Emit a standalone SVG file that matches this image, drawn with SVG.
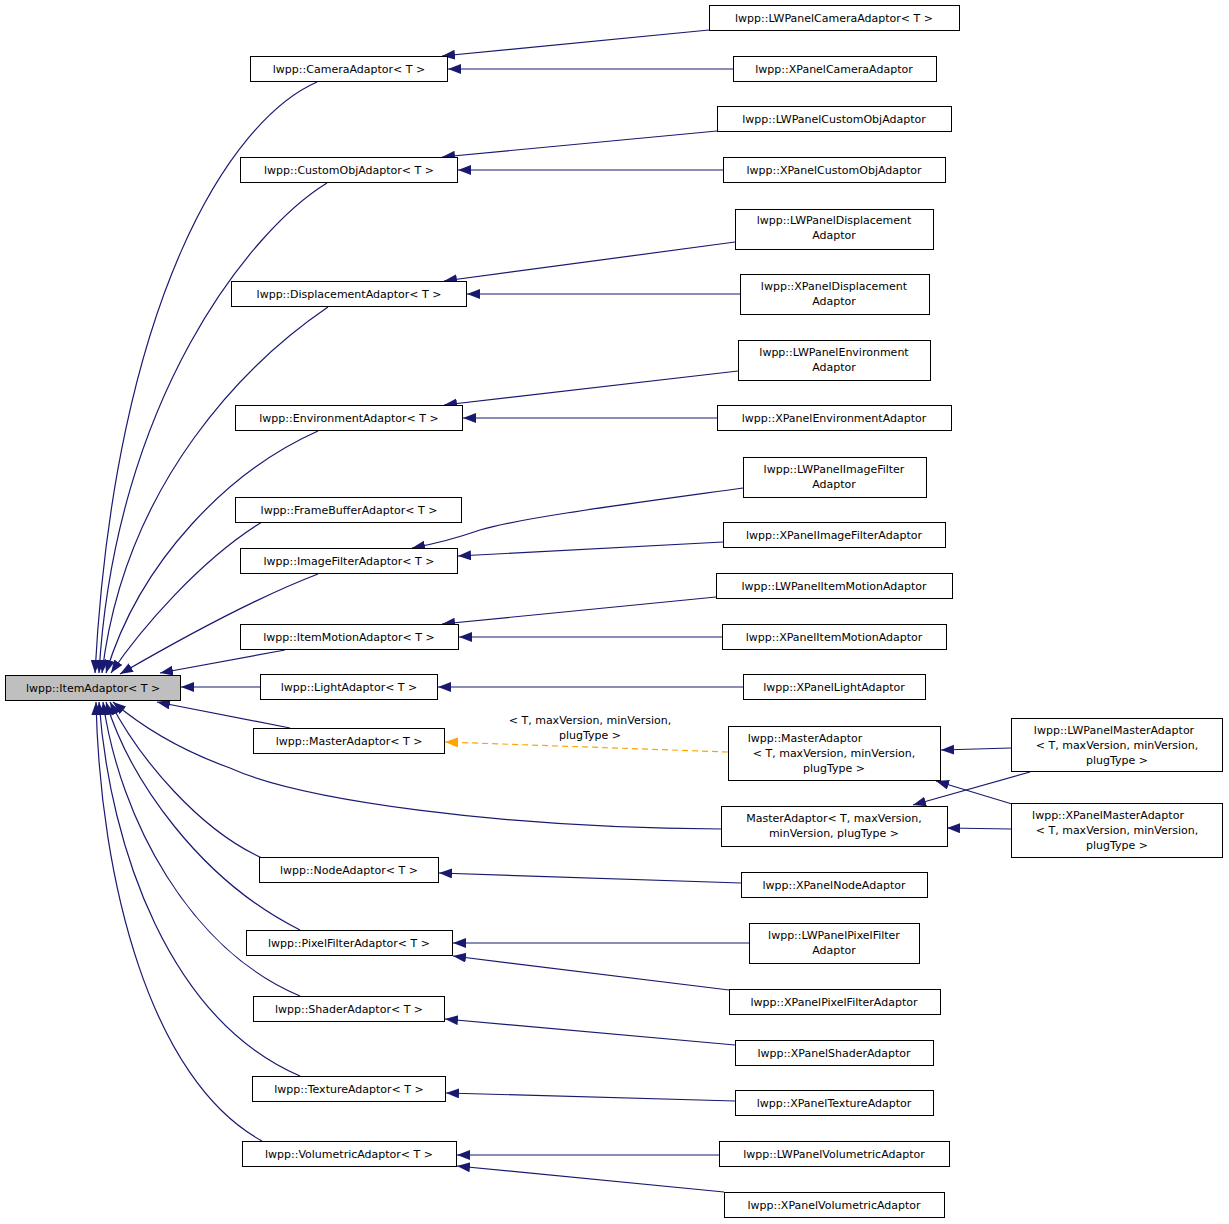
<svg xmlns="http://www.w3.org/2000/svg" width="1229" height="1224" viewBox="0 0 1229 1224">
<style>
rect{fill:#fff;stroke:#000;stroke-width:1}
text{font-family:"DejaVu Sans",sans-serif;font-size:11px;fill:#000;text-anchor:middle}
.e{fill:none;stroke:#191970;stroke-width:1.2}
.d{fill:none;stroke:#ffa500;stroke-width:1.2;stroke-dasharray:6,4}
</style>
<defs>
<marker id="a" markerUnits="userSpaceOnUse" markerWidth="14" markerHeight="12" refX="13" refY="5" orient="auto"><path d="M0,0 L13,5 L0,10 Z" fill="#191970"/></marker>
<marker id="o" markerUnits="userSpaceOnUse" markerWidth="14" markerHeight="12" refX="13" refY="5" orient="auto"><path d="M0,0 L13,5 L0,10 Z" fill="#ffa500"/></marker>
</defs>
<rect x="0" y="0" width="1229" height="1224" style="stroke:none"/>
<g id="edges">
<path class="e" marker-end="url(#a)" d="M317,82 C230,120 115,300 95,673"/>
<path class="e" marker-end="url(#a)" d="M327,183 C250,230 115,400 99,673"/>
<path class="e" marker-end="url(#a)" d="M328,307 C250,360 125,480 102,673"/>
<path class="e" marker-end="url(#a)" d="M318,431 C230,470 140,560 106,673"/>
<path class="e" marker-end="url(#a)" d="M262,522 C200,560 140,630 111,673"/>
<path class="e" marker-end="url(#a)" d="M318,574 C250,600 170,645 120,674"/>
<path class="e" marker-end="url(#a)" d="M285,650 L160,673"/>
<path class="e" marker-end="url(#a)" d="M260,687 L181,687"/>
<path class="e" marker-end="url(#a)" d="M290,728 L157,702"/>
<path class="e" marker-end="url(#a)" d="M721,829 C500,828 300,800 230,768 C180,750 140,725 113,702"/>
<path class="e" marker-end="url(#a)" d="M262,858 C200,830 140,760 110,702"/>
<path class="e" marker-end="url(#a)" d="M300,930 C200,880 130,780 106,702"/>
<path class="e" marker-end="url(#a)" d="M300,996 C190,950 120,820 103,702"/>
<path class="e" marker-end="url(#a)" d="M300,1076 C170,1020 110,850 99,702"/>
<path class="e" marker-end="url(#a)" d="M262,1141 C150,1080 100,880 96,702"/>
<path class="e" marker-end="url(#a)" d="M709,30 L442,56"/>
<path class="e" marker-end="url(#a)" d="M733,69 L448,69"/>
<path class="e" marker-end="url(#a)" d="M717,131 L442,157"/>
<path class="e" marker-end="url(#a)" d="M723,170 L458,170"/>
<path class="e" marker-end="url(#a)" d="M735,242 L444,281"/>
<path class="e" marker-end="url(#a)" d="M740,294 L467,294"/>
<path class="e" marker-end="url(#a)" d="M738,371 L444,405"/>
<path class="e" marker-end="url(#a)" d="M717,418 L463,418"/>
<path class="e" marker-end="url(#a)" d="M743,488 C620,505 520,518 480,530 C460,537 440,543 412,548"/>
<path class="e" marker-end="url(#a)" d="M723,542 L458,556"/>
<path class="e" marker-end="url(#a)" d="M716,597 L442,624"/>
<path class="e" marker-end="url(#a)" d="M722,637 L459,637"/>
<path class="e" marker-end="url(#a)" d="M743,687 L438,687"/>
<path class="e" marker-end="url(#a)" d="M741,883 L439,873"/>
<path class="e" marker-end="url(#a)" d="M749,943 L453,943"/>
<path class="e" marker-end="url(#a)" d="M729,990 L453,956"/>
<path class="e" marker-end="url(#a)" d="M735,1045 L445,1019"/>
<path class="e" marker-end="url(#a)" d="M735,1101 L446,1093"/>
<path class="e" marker-end="url(#a)" d="M719,1155 L457,1155"/>
<path class="e" marker-end="url(#a)" d="M724,1192 L457,1166"/>
<path class="d" marker-end="url(#o)" d="M728,752 L445,742"/>
<text x="590" y="724">&lt; T, maxVersion, minVersion,</text>
<text x="590" y="739">plugType &gt;</text>
<path class="e" marker-end="url(#a)" d="M1011,748 L941,750"/>
<path class="e" marker-end="url(#a)" d="M1011,829 L947,828"/>
<path class="e" marker-end="url(#a)" d="M1030,772 L913,805"/>
<path class="e" marker-end="url(#a)" d="M1012,804 L936,781"/>
</g>
<g id="ItemAdaptor"><rect x="5.5" y="675.5" width="175" height="25" style="fill:#bfbfbf"/><text x="93" y="692">lwpp::ItemAdaptor&lt; T &gt;</text></g>
<g id="CameraAdaptor"><rect x="250.5" y="56.5" width="197" height="25"/><text x="349" y="73">lwpp::CameraAdaptor&lt; T &gt;</text></g>
<g id="CustomObjAdaptor"><rect x="240.5" y="157.5" width="217" height="25"/><text x="349" y="174">lwpp::CustomObjAdaptor&lt; T &gt;</text></g>
<g id="DisplacementAdaptor"><rect x="231.5" y="281.5" width="235" height="25"/><text x="349" y="298">lwpp::DisplacementAdaptor&lt; T &gt;</text></g>
<g id="EnvironmentAdaptor"><rect x="235.5" y="405.5" width="227" height="25"/><text x="349" y="422">lwpp::EnvironmentAdaptor&lt; T &gt;</text></g>
<g id="FrameBufferAdaptor"><rect x="235.5" y="497.5" width="226" height="25"/><text x="349" y="514">lwpp::FrameBufferAdaptor&lt; T &gt;</text></g>
<g id="ImageFilterAdaptor"><rect x="240.5" y="548.5" width="217" height="25"/><text x="349" y="565">lwpp::ImageFilterAdaptor&lt; T &gt;</text></g>
<g id="ItemMotionAdaptor"><rect x="240.5" y="624.5" width="218" height="25"/><text x="349" y="641">lwpp::ItemMotionAdaptor&lt; T &gt;</text></g>
<g id="LightAdaptor"><rect x="260.5" y="674.5" width="177" height="25"/><text x="349" y="691">lwpp::LightAdaptor&lt; T &gt;</text></g>
<g id="MasterAdaptorT"><rect x="253.5" y="728.5" width="191" height="25"/><text x="349" y="745">lwpp::MasterAdaptor&lt; T &gt;</text></g>
<g id="NodeAdaptor"><rect x="259.5" y="857.5" width="179" height="25"/><text x="349" y="874">lwpp::NodeAdaptor&lt; T &gt;</text></g>
<g id="PixelFilterAdaptor"><rect x="246.5" y="930.5" width="206" height="25"/><text x="349" y="947">lwpp::PixelFilterAdaptor&lt; T &gt;</text></g>
<g id="ShaderAdaptor"><rect x="253.5" y="996.5" width="191" height="25"/><text x="349" y="1013">lwpp::ShaderAdaptor&lt; T &gt;</text></g>
<g id="TextureAdaptor"><rect x="252.5" y="1076.5" width="193" height="25"/><text x="349" y="1093">lwpp::TextureAdaptor&lt; T &gt;</text></g>
<g id="VolumetricAdaptor"><rect x="242.5" y="1141.5" width="214" height="25"/><text x="349" y="1158">lwpp::VolumetricAdaptor&lt; T &gt;</text></g>
<g id="LWPanelCameraAdaptor"><rect x="709.5" y="5.5" width="250" height="25"/><text x="834" y="22">lwpp::LWPanelCameraAdaptor&lt; T &gt;</text></g>
<g id="XPanelCameraAdaptor"><rect x="733.5" y="56.5" width="203" height="25"/><text x="834" y="73">lwpp::XPanelCameraAdaptor</text></g>
<g id="LWPanelCustomObjAdaptor"><rect x="717.5" y="106.5" width="234" height="25"/><text x="834" y="123">lwpp::LWPanelCustomObjAdaptor</text></g>
<g id="XPanelCustomObjAdaptor"><rect x="723.5" y="157.5" width="222" height="25"/><text x="834" y="174">lwpp::XPanelCustomObjAdaptor</text></g>
<g id="LWPanelDisplacementAdaptor"><rect x="735.5" y="209.5" width="198" height="40"/><text x="834" y="224">lwpp::LWPanelDisplacement</text><text x="834" y="239">Adaptor</text></g>
<g id="XPanelDisplacementAdaptor"><rect x="740.5" y="274.5" width="189" height="40"/><text x="834" y="290">lwpp::XPanelDisplacement</text><text x="834" y="305">Adaptor</text></g>
<g id="LWPanelEnvironmentAdaptor"><rect x="738.5" y="340.5" width="192" height="40"/><text x="834" y="356">lwpp::LWPanelEnvironment</text><text x="834" y="371">Adaptor</text></g>
<g id="XPanelEnvironmentAdaptor"><rect x="717.5" y="405.5" width="234" height="25"/><text x="834" y="422">lwpp::XPanelEnvironmentAdaptor</text></g>
<g id="LWPanelImageFilterAdaptor"><rect x="743.5" y="457.5" width="183" height="40"/><text x="834" y="473">lwpp::LWPanelImageFilter</text><text x="834" y="488">Adaptor</text></g>
<g id="XPanelImageFilterAdaptor"><rect x="723.5" y="522.5" width="222" height="25"/><text x="834" y="539">lwpp::XPanelImageFilterAdaptor</text></g>
<g id="LWPanelItemMotionAdaptor"><rect x="716.5" y="573.5" width="236" height="25"/><text x="834" y="590">lwpp::LWPanelItemMotionAdaptor</text></g>
<g id="XPanelItemMotionAdaptor"><rect x="722.5" y="624.5" width="224" height="25"/><text x="834" y="641">lwpp::XPanelItemMotionAdaptor</text></g>
<g id="XPanelLightAdaptor"><rect x="743.5" y="674.5" width="182" height="25"/><text x="834" y="691">lwpp::XPanelLightAdaptor</text></g>
<g id="lwppMasterAdaptorFull"><rect x="728.5" y="726.5" width="212" height="54"/><text x="805" y="742">lwpp::MasterAdaptor</text><text x="834" y="757">&lt; T, maxVersion, minVersion,</text><text x="834" y="772">plugType &gt;</text></g>
<g id="MasterAdaptorFull"><rect x="721.5" y="806.5" width="226" height="40"/><text x="834" y="822">MasterAdaptor&lt; T, maxVersion,</text><text x="834" y="837">minVersion, plugType &gt;</text></g>
<g id="LWPanelMasterAdaptor"><rect x="1011.5" y="718.5" width="211" height="53"/><text x="1114" y="734">lwpp::LWPanelMasterAdaptor</text><text x="1117" y="749">&lt; T, maxVersion, minVersion,</text><text x="1117" y="764">plugType &gt;</text></g>
<g id="XPanelMasterAdaptor"><rect x="1011.5" y="803.5" width="211" height="54"/><text x="1108" y="819">lwpp::XPanelMasterAdaptor</text><text x="1117" y="834">&lt; T, maxVersion, minVersion,</text><text x="1117" y="849">plugType &gt;</text></g>
<g id="XPanelNodeAdaptor"><rect x="741.5" y="872.5" width="186" height="25"/><text x="834" y="889">lwpp::XPanelNodeAdaptor</text></g>
<g id="LWPanelPixelFilterAdaptor"><rect x="749.5" y="923.5" width="170" height="40"/><text x="834" y="939">lwpp::LWPanelPixelFilter</text><text x="834" y="954">Adaptor</text></g>
<g id="XPanelPixelFilterAdaptor"><rect x="729.5" y="989.5" width="211" height="25"/><text x="834" y="1006">lwpp::XPanelPixelFilterAdaptor</text></g>
<g id="XPanelShaderAdaptor"><rect x="735.5" y="1040.5" width="198" height="25"/><text x="834" y="1057">lwpp::XPanelShaderAdaptor</text></g>
<g id="XPanelTextureAdaptor"><rect x="735.5" y="1090.5" width="198" height="25"/><text x="834" y="1107">lwpp::XPanelTextureAdaptor</text></g>
<g id="LWPanelVolumetricAdaptor"><rect x="719.5" y="1141.5" width="230" height="25"/><text x="834" y="1158">lwpp::LWPanelVolumetricAdaptor</text></g>
<g id="XPanelVolumetricAdaptor"><rect x="724.5" y="1192.5" width="220" height="25"/><text x="834" y="1209">lwpp::XPanelVolumetricAdaptor</text></g>
</svg>
